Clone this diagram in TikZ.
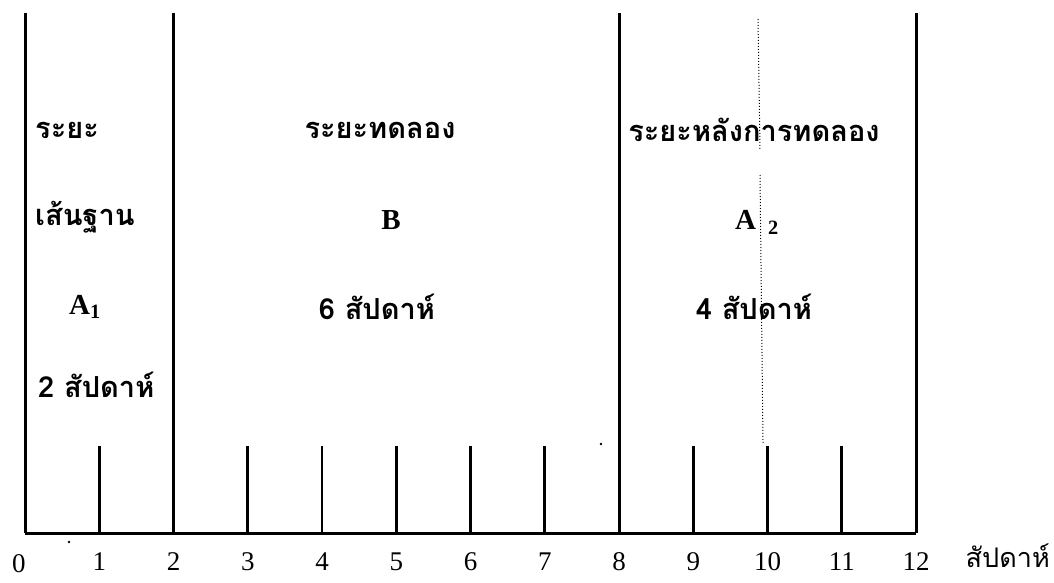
\documentclass[tikz,border=0pt]{standalone}
\usepackage{fontspec}
\setmainfont{Liberation Serif}
\newfontfamily\thai[Script=Thai]{Loma}
\begin{document}
\begin{tikzpicture}[x=1pt,y=-1pt,
  bar/.style={line width=3pt},
  tck/.style={line width=2.6pt},
  dotline/.style={line width=1pt,dotted},
  th/.style={font=\thai\bfseries\fontsize{29}{32}\selectfont,inner sep=0pt},
  thr/.style={font=\thai\fontsize{27}{30}\selectfont,inner sep=0pt},
  lat/.style={font=\bfseries\fontsize{29}{32}\selectfont,inner sep=0pt},
  num/.style={font=\fontsize{27}{30}\selectfont,inner sep=0pt}]
\useasboundingbox (0,0) rectangle (1054,583);
% week coordinates
\foreach \w in {0,...,12}{
  \coordinate (b\w) at ({25+74.25*\w},533);
  \coordinate (t\w) at ({25+74.25*\w},446);
  \coordinate (u\w) at ({25+74.25*\w},13);
}
\foreach \w in {1,...,12}{\node[num] (n\w) at ({25+74.25*\w},562) {\w};}
\node[num] (n0) at (19,564) {0};
% baseline and phase lines
\draw[bar] (b0) -- (b12);
\foreach \w in {0,2,8,12}{\draw[bar] (u\w) -- (b\w);}
\foreach \w in {1,3,4,5,6,7,9,10,11}{\draw[tck] (t\w) -- (b\w);}
% dotted line
\coordinate (d1) at (758,19);
\coordinate (d2) at (760,150);
\coordinate (d3) at (760,175);
\coordinate (d4) at (763,443);
\draw[dotline] (d1) -- (d2);
\draw[dotline] (d3) -- (d4);
% stray dots
\fill (69,542) circle (1.3);
\fill (601,444) circle (1.3);
% labels phase A1
\node[th,anchor=west] (p1) at (35,130) {ระยะ};
\node[th,anchor=west] (p2) at (35,217) {เส้นฐาน};
\node[lat] (p3) at (85,307) {A\textsubscript{1}};
\node[th,anchor=west] (p4) at (38,385) {2 สัปดาห์};
% phase B
\node[th] (q1) at (380,130) {ระยะทดลอง};
\node[lat] (q2) at (391,220) {B};
\node[th] (q3) at (377,307) {6 สัปดาห์};
% phase A2
\node[th] (r1) at (754,130) {ระยะหลังการทดลอง};
\node[lat] (r2) at (757,222) {A\hspace{12pt}\textsubscript{2}};
\node[th] (r3) at (754,307) {4 สัปดาห์};
% unit
\node[thr,anchor=east] (unit) at (1050,556) {สัปดาห์};
\end{tikzpicture}
\end{document}
